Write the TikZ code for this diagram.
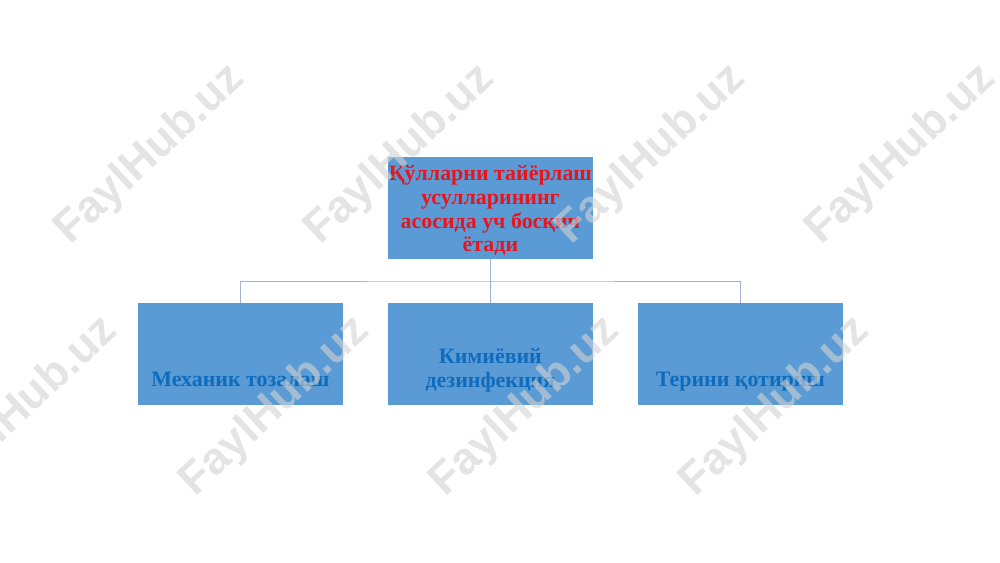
\documentclass[tikz,border=0pt]{standalone}
\usepackage{fontspec}
\setmainfont{Liberation Serif}
\newfontfamily\markfont{Liberation Sans}
\definecolor{boxblue}{HTML}{5B9BD5}
\definecolor{textblue}{HTML}{0F6CBD}
\definecolor{textred}{HTML}{E8141E}
\definecolor{linkgray}{HTML}{9DB3CF}
\tikzset{
  stagebox/.style={rectangle, fill=boxblue, minimum width=5.125cm, minimum height=2.55cm, inner sep=0pt},
  stagetext/.style={font=\bfseries\fontsize{15.6}{17}\selectfont, text=textblue, align=center, inner sep=0pt},
  link/.style={draw=linkgray, line width=0.6pt},
  markstyle/.style={font=\markfont\bfseries\fontsize{32}{32}\selectfont, text=gray!35, opacity=0.6, rotate=43, inner sep=0pt}
}
\begin{document}
\begin{tikzpicture}
        \useasboundingbox (0,0) rectangle (25,14.05);

        % Main box
        \node[stagebox] (main) at (12.26,8.85) {};
        \node[stagetext, text=textred, anchor=base] (maintext) at (12.26,7.75)
            {Қўлларни тайёрлаш\\усулларининг\\асосида уч босқич\\ётади};

        % Three stages
        \node[stagebox] (mech) at (6.01,5.2) {};
        \node[stagebox] (chem) at (12.26,5.2) {};
        \node[stagebox] (skin) at (18.51,5.2) {};
        \node[stagetext, anchor=base] (mechtext) at (6.01,4.4) {Механик тозалаш};
        \node[stagetext, anchor=base] (chemtext) at (12.26,4.375) {Кимиёвий\\дезинфекция};
        \node[stagetext, anchor=base] (skintext) at (18.51,4.4) {Терини қотириш};

        % Connectors
        \coordinate (fork) at (12.26,7.025);
        \draw[link] (main.south) -- (fork);
        \draw[link] (mech.north) |- (fork) -| (skin.north);
        \draw[link] (fork) -- (chem.north);

        % Watermarks
        \foreach \x in {3.76,10.01,16.28,22.53}
            \node[markstyle] at (\x,10.18) {FaylHub.uz};
        \foreach \x in {0.58,6.88,13.13,19.38}
            \node[markstyle] at (\x,3.88) {FaylHub.uz};
\end{tikzpicture}
\end{document}
